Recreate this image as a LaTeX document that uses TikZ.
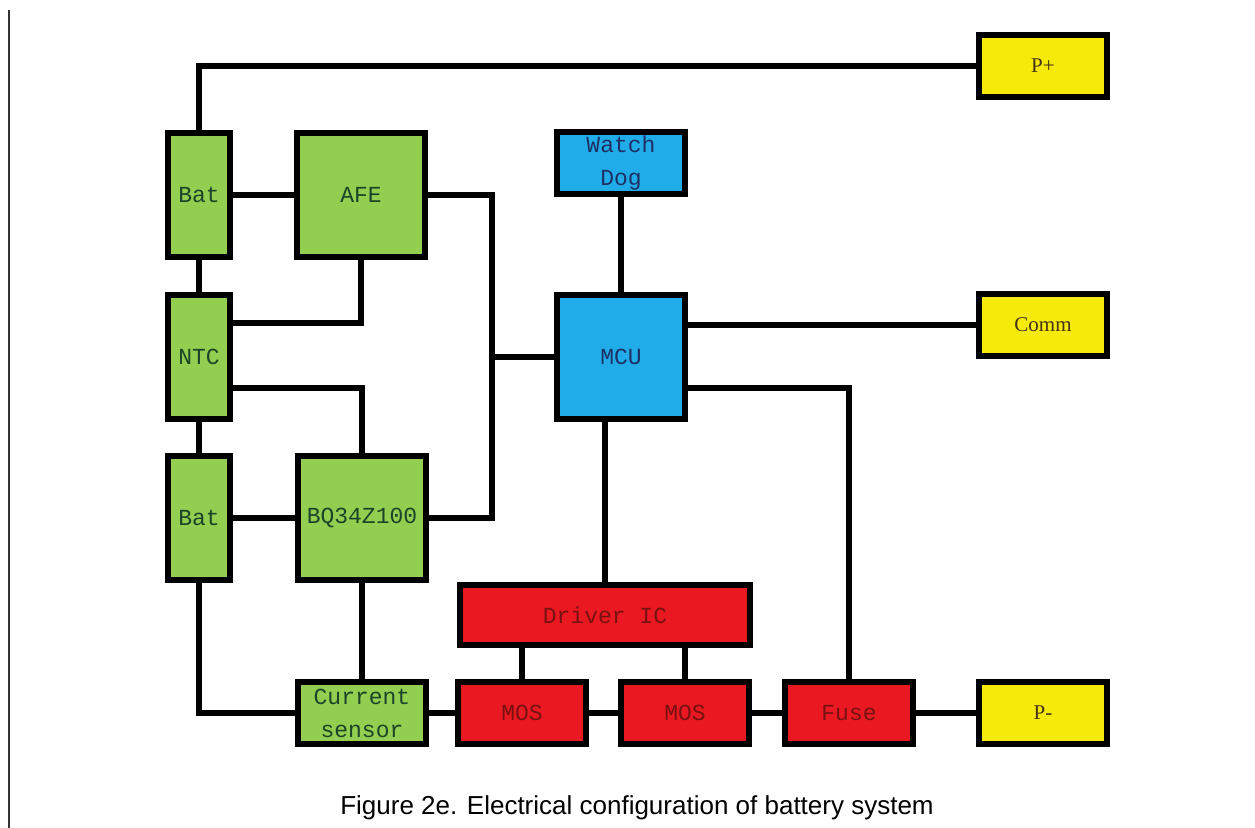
\documentclass[tikz,border=0pt]{standalone}
\usepackage{fontspec}
\setmonofont{Liberation Mono}
\newfontfamily\pinfont{Liberation Serif}
\newfontfamily\capfont{Liberation Sans}
\usepackage{tikz}

\definecolor{cellgreen}{RGB}{146,206,80}
\definecolor{cellink}{RGB}{28,68,40}
\definecolor{chipblue}{RGB}{32,172,232}
\definecolor{chipink}{RGB}{30,48,100}
\definecolor{powerred}{RGB}{234,24,32}
\definecolor{powerink}{RGB}{120,18,18}
\definecolor{portyellow}{RGB}{246,234,10}
\definecolor{portink}{RGB}{70,50,20}

\begin{document}
\begin{tikzpicture}[x=0.5pt,y=-0.5pt,
  box/.style={draw=black,line width=3pt,inner sep=0pt,align=center,
    font=\ttfamily\fontsize{11.5}{16.5}\selectfont},
  cell/.style={box,fill=cellgreen,text=cellink},
  chip/.style={box,fill=chipblue,text=chipink},
  power/.style={box,fill=powerred,text=powerink},
  port/.style={box,fill=portyellow,text=portink,font=\pinfont\fontsize{10.5}{12}\selectfont},
  small/.style={minimum width=64pt,minimum height=31pt},
  tall/.style={minimum width=31pt,minimum height=62pt},
  big/.style={minimum width=64pt,minimum height=62pt},
  wire/.style={line width=3pt}]
\useasboundingbox (0,0) rectangle (1255,828);
\draw[line width=1pt,black!80] (9,10) -- (9,828);

% battery side
\node[cell,tall] (bat1) at (199,195) {Bat};
\node[cell,big] (afe) at (361,195) {AFE};
\node[cell,tall] (ntc) at (199,357) {NTC};
\node[cell,tall] (bat2) at (199,518) {Bat};
\node[cell,big] (bq) at (362,518) {BQ34Z100};
\node[cell,small] (cs) at (362,713) {Current\\sensor};

% control
\node[chip,small] (wdog) at (621,163) {Watch\\Dog};
\node[chip,big] (mcu) at (621,357) {MCU};

% power path
\node[power,minimum width=145pt,minimum height=30pt] (drv) at (605,615) {Driver IC};
\node[power,small] (mos1) at (522,713) {MOS};
\node[power,small] (mos2) at (685,713) {MOS};
\node[power,small] (fuse) at (849,713) {Fuse};

% terminals
\node[port,small] (pplus) at (1043,66) {P+};
\node[port,small] (comm) at (1043,325) {Comm};
\node[port,small] (pminus) at (1043,713) {P-};

\coordinate (bus) at (492,357);

\draw[wire] (bat1.north) |- (pplus.west);
\draw[wire] (bat1) -- (afe);
\draw[wire] (bat1) -- (ntc);
\draw[wire] (afe.south) |- ([yshift=17pt]ntc.east);
\draw[wire] ([yshift=-15.5pt]ntc.east) -| (bq.north);
\draw[wire] (ntc) -- (bat2);
\draw[wire] (bat2) -- (bq);
\draw[wire] (afe.east) -| (bus) |- (bq.east);
\draw[wire] (bus) -- (mcu.west);
\draw[wire] (wdog) -- (mcu);
\draw[wire] (mcu.east |- comm.west) -- (comm.west);
\draw[wire] ([yshift=-15.5pt]mcu.east) -| (fuse.north);
\draw[wire] (drv.north |- mcu.south) -- (drv.north);
\draw[wire] (mos1.north |- drv.south) -- (mos1.north);
\draw[wire] (mos2.north |- drv.south) -- (mos2.north);
\draw[wire] (bq) -- (cs);
\draw[wire] (bat2.south) |- (cs.west);
\draw[wire] (cs) -- (mos1) -- (mos2) -- (fuse) -- (pminus);

\node[font=\capfont\fontsize{13}{15}\selectfont] (caption) at (637,808)
  {Figure 2e. Electrical configuration of battery system};
\end{tikzpicture}
\end{document}
